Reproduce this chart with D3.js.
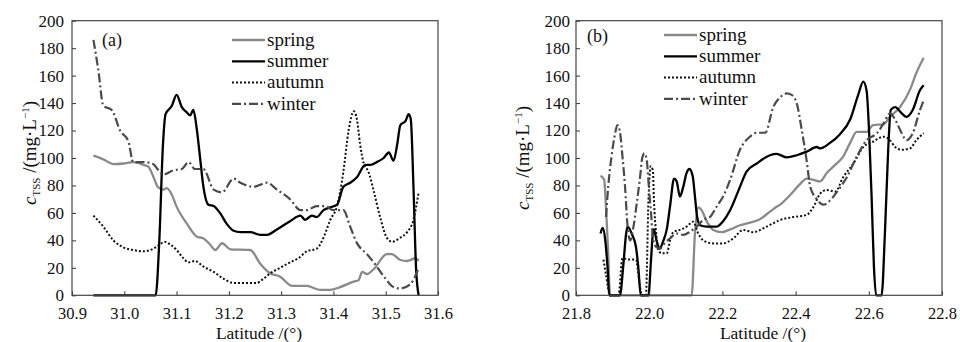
<!DOCTYPE html>
<html><head><meta charset="utf-8">
<script src="https://cdn.jsdelivr.net/npm/d3@7"></script>
<style>
html,body{margin:0;padding:0;background:#fff;}
svg{display:block;}
text{font-family:"Liberation Serif","Times New Roman",serif;fill:#111;}
</style></head>
<body><svg id="chart" width="960" height="342"></svg>
<script>
// ---------- data ----------
const seriesNames = ["spring","summer","autumn","winter"];
const xTicksA = [30.9,31.0,31.1,31.2,31.3,31.4,31.5,31.6];
const xTicksB = [21.8,22.0,22.2,22.4,22.6,22.8];
const yTicks = [0,20,40,60,80,100,120,140,160,180,200];

const springA = [[30.941,101.7],[30.96,99],[30.979,95.6],[30.998,96],[31.017,97],[31.037,95],[31.046,93.7],[31.056,86],[31.064,79],[31.075,77],[31.081,78],[31.09,74],[31.1,64.6],[31.12,52],[31.139,42.7],[31.151,41.5],[31.164,37],[31.174,33],[31.187,37.9],[31.203,33.5],[31.241,33],[31.26,23],[31.279,16],[31.298,13.6],[31.321,6.8],[31.349,6.8],[31.375,3.9],[31.394,3.9],[31.413,6],[31.439,10],[31.448,11],[31.455,17],[31.464,15.5],[31.477,19],[31.502,30],[31.512,30],[31.528,25.7],[31.541,25],[31.557,27],[31.563,25]];
const summerA = [[30.941,0],[31.060,0],[31.067,40],[31.074,110],[31.079,132],[31.091,138],[31.1,146],[31.11,137],[31.12,133],[31.126,131],[31.132,135],[31.139,120],[31.145,100],[31.151,80],[31.161,66],[31.171,65],[31.183,60],[31.196,52],[31.209,47],[31.222,46],[31.241,46],[31.26,44],[31.273,44],[31.292,48],[31.317,54],[31.337,58],[31.346,55],[31.359,58],[31.368,57],[31.381,62],[31.394,64],[31.407,66],[31.419,79],[31.432,82],[31.445,86],[31.461,95],[31.471,95],[31.483,97],[31.496,100],[31.506,104],[31.515,98],[31.522,110],[31.528,124],[31.538,127],[31.544,132],[31.548,128],[31.553,80],[31.558,20],[31.563,0]];
const autumnA = [[30.941,58],[30.96,50],[30.979,40],[30.998,35],[31.017,33],[31.037,32],[31.056,34],[31.068,37],[31.077,39],[31.088,37],[31.1,33],[31.113,27],[31.123,24],[31.135,25],[31.151,21],[31.171,17],[31.19,12],[31.209,9],[31.228,9],[31.253,9],[31.266,12],[31.279,16],[31.298,20],[31.317,24],[31.333,27],[31.349,32],[31.368,34],[31.381,42],[31.394,55],[31.407,65],[31.419,90],[31.429,120],[31.439,134],[31.445,128],[31.451,110],[31.458,96],[31.467,90],[31.477,76],[31.49,56],[31.502,42],[31.512,39],[31.528,42],[31.541,46],[31.553,55],[31.563,75]];
const winterA = [[30.941,186],[30.95,165],[30.96,138],[30.976,135],[30.992,120],[31.008,112],[31.017,97],[31.037,97],[31.053,96],[31.075,88],[31.094,91],[31.11,92],[31.123,97],[31.135,92],[31.151,92],[31.171,77],[31.187,75],[31.209,85],[31.222,82],[31.247,79],[31.273,82],[31.292,77],[31.317,70],[31.337,62],[31.349,62],[31.368,65],[31.384,65],[31.4,62],[31.419,62],[31.432,50],[31.445,38],[31.464,30],[31.477,24],[31.496,14],[31.515,6],[31.528,5],[31.547,8],[31.563,20]];

const springB = [[21.867,87],[21.877,84],[21.882,64],[21.888,30],[21.893,0],[22.116,0],[22.125,45],[22.134,64],[22.143,62],[22.157,54],[22.175,47.5],[22.198,46],[22.221,48],[22.248,51],[22.275,53],[22.3,55],[22.321,59],[22.34,63],[22.362,67],[22.385,73],[22.412,81],[22.43,85],[22.449,84],[22.467,83],[22.485,89],[22.508,95],[22.53,101],[22.549,111],[22.567,119],[22.594,119],[22.612,124],[22.64,124.5],[22.658,130],[22.685,137],[22.713,150],[22.73,162],[22.75,173]];
const summerB = [[21.867,45],[21.873,49],[21.88,40],[21.886,21],[21.891,0],[21.92,0],[21.929,21],[21.937,45],[21.941,50],[21.952,45],[21.964,35],[21.97,21],[21.977,0],[21.998,0],[22.005,26],[22.01,45],[22.013,48],[22.02,40],[22.028,34],[22.039,40],[22.048,48],[22.057,65],[22.068,85],[22.075,83],[22.084,72],[22.093,79],[22.102,89],[22.11,92],[22.119,86.5],[22.125,72],[22.131,57],[22.139,51],[22.157,50],[22.184,50],[22.202,54],[22.221,62],[22.248,79],[22.266,90],[22.294,96],[22.33,102],[22.348,103],[22.376,100.5],[22.403,102],[22.43,104.6],[22.458,108],[22.467,107],[22.494,111],[22.52,117],[22.549,128],[22.571,146],[22.585,155.6],[22.594,149],[22.601,118],[22.608,69],[22.614,21],[22.62,0],[22.635,0],[22.644,45],[22.653,106],[22.66,135],[22.672,137],[22.69,132.5],[22.703,130],[22.72,135],[22.74,149.5],[22.75,153]];
const autumnB = [[21.875,26],[21.882,15],[21.893,0],[21.916,0],[21.927,27],[21.945,26],[21.964,26],[21.972,12],[21.98,0],[21.991,0],[21.998,69],[22.004,94],[22.01,91],[22.013,69],[22.019,45],[22.025,33],[22.034,30.6],[22.048,30.6],[22.057,40],[22.066,46],[22.084,47.6],[22.102,50],[22.12,53.6],[22.134,45],[22.148,40],[22.175,37.8],[22.202,37.8],[22.23,41.5],[22.257,47.6],[22.284,46],[22.321,50],[22.357,54.8],[22.394,57],[22.43,58.5],[22.449,64.5],[22.467,74],[22.485,76.7],[22.508,75.5],[22.53,86],[22.558,96],[22.585,108],[22.612,112],[22.64,115.5],[22.658,113],[22.672,108],[22.69,106],[22.713,107],[22.73,113],[22.75,118]];
const winterB = [[21.882,57],[21.888,79],[21.897,101],[21.907,118],[21.913,124],[21.92,119],[21.927,101],[21.934,79],[21.941,50],[21.948,40],[21.957,50],[21.966,67],[21.975,86],[21.981,100],[21.987,103.4],[21.993,99],[21.999,79],[22.005,60],[22.011,40],[22.02,35],[22.03,34],[22.039,37],[22.057,41.5],[22.075,45],[22.093,44],[22.11,46],[22.13,50],[22.148,55],[22.166,57],[22.184,64.5],[22.202,72],[22.221,84],[22.248,106],[22.275,115.5],[22.294,118.4],[22.317,118.4],[22.339,137],[22.357,144],[22.376,147],[22.389,146],[22.403,140],[22.417,120],[22.43,98.5],[22.44,79],[22.458,70],[22.476,66],[22.494,69],[22.512,75],[22.54,86],[22.567,101],[22.594,113],[22.622,118],[22.64,125],[22.658,132.5],[22.672,128],[22.69,118],[22.703,113],[22.72,118],[22.74,135],[22.75,142]];

// ---------- styles ----------
const FONT = "Liberation Serif";
const styles = {
  spring:{stroke:"#8a8a8a", width:2.3, dash:null},
  summer:{stroke:"#000000", width:2.3, dash:null},
  autumn:{stroke:"#111111", width:2, dash:"2,2"},
  winter:{stroke:"#4a4a4a", width:2.2, dash:"9,3,2,3"}
};

const panels = [
  {label:"(a)", left:72, right:438, xDomain:[30.9,31.6], ticks:xTicksA, fmt:d3.format(".1f"),
   data:{spring:springA, summer:summerA, autumn:autumnA, winter:winterA},
   legX:232, legY:40, labPos:[102,40], yLabX:29, yLabY:153, yPad:8},
  {label:"(b)", left:576, right:942, xDomain:[21.8,22.8], ticks:xTicksB, fmt:d3.format(".1f"),
   data:{spring:springB, summer:summerB, autumn:autumnB, winter:winterB},
   legX:664, legY:35, labPos:[587,36], yLabX:522, yLabY:158, yPad:6}
];

const plotTop = 20.7, plotBottom = 295.3;
const svg = d3.select("#chart");
svg.append("rect").attr("width",960).attr("height",342).attr("fill","#fff");

panels.forEach(p => {
  const x = d3.scaleLinear().domain(p.xDomain).range([p.left, p.right]);
  const y = d3.scaleLinear().domain([0,200]).range([plotBottom, plotTop]);
  const g = svg.append("g");

  seriesNames.forEach(name => {
    const st = styles[name];
    const line = d3.line().x(d=>x(d[0])).y(d=>y(d[1])).curve(d3.curveMonotoneX);
    g.append("path").datum(p.data[name]).attr("d", line)
      .attr("fill","none").attr("stroke", st.stroke).attr("stroke-width", st.width)
      .attr("stroke-dasharray", st.dash).attr("stroke-linejoin","round");
  });

  const xa = g.append("g").attr("transform",`translate(0,${plotBottom})`)
    .call(d3.axisBottom(x).tickValues(p.ticks).tickFormat(p.fmt).tickSizeInner(-4).tickSizeOuter(0).tickPadding(12));
  xa.attr("font-family",FONT).attr("font-size",16.5);
  xa.select(".domain").remove();
  xa.selectAll("text").attr("fill","#111");
  xa.selectAll("line").attr("stroke","#333");

  const ya = g.append("g").attr("transform",`translate(${p.left},0)`)
    .call(d3.axisLeft(y).tickValues(yTicks).tickSizeInner(-4).tickSizeOuter(0).tickPadding(p.yPad));
  ya.attr("font-family",FONT).attr("font-size",17);
  ya.select(".domain").remove();
  ya.selectAll("text").attr("fill","#111");
  ya.selectAll("line").attr("stroke","#333");

  g.append("rect").attr("x",p.left).attr("y",plotTop).attr("width",p.right-p.left).attr("height",plotBottom-plotTop)
    .attr("fill","none").attr("stroke","#444").attr("stroke-width",1.2);

  g.append("text").attr("x",p.labPos[0]).attr("y",p.labPos[1]).attr("dy","0.35em")
    .attr("font-size",18).text(p.label);

  seriesNames.forEach((name,i) => {
    const st = styles[name];
    const yy = p.legY + i*21.3;
    g.append("line").attr("x1",p.legX).attr("x2",p.legX+33).attr("y1",yy).attr("y2",yy)
      .attr("stroke",st.stroke).attr("stroke-width",st.width).attr("stroke-dasharray",st.dash);
    g.append("text").attr("x",p.legX+35).attr("y",yy).attr("dy","0.3em").attr("font-size",19).text(name);
  });

  g.append("text").attr("x",(p.left+p.right)/2+4).attr("y",339).attr("text-anchor","middle")
    .attr("font-size",17.5).text("Latitude /(°)");

  const yl = g.append("text").attr("transform",`translate(${p.yLabX},${p.yLabY}) rotate(-90)`)
    .attr("text-anchor","middle").attr("dy","0.35em").attr("font-size",19);
  yl.append("tspan").attr("font-style","italic").text("c");
  yl.append("tspan").attr("font-size",11).attr("dy",4).text("TSS");
  yl.append("tspan").attr("dy",-4).text(" /(mg·L");
  yl.append("tspan").attr("font-size",11).attr("dy",-7).text("−1");
  yl.append("tspan").attr("dy",7).text(")");
});
</script></body></html>
